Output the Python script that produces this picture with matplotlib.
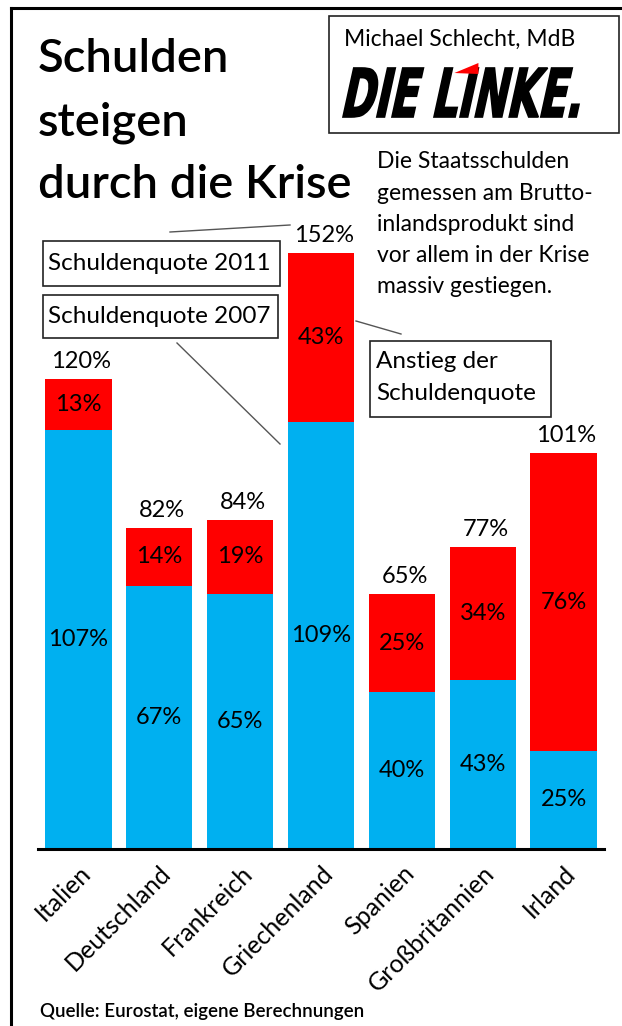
import numpy as np
import matplotlib
matplotlib.use("Agg")
import matplotlib.pyplot as plt
from matplotlib.patches import Rectangle, Polygon, PathPatch
from matplotlib.textpath import TextPath
from matplotlib.font_manager import FontProperties
from matplotlib.path import Path

plt.rcParams['font.family'] = ['Lato', 'DejaVu Sans']

# Daten (Schuldenquote in % des BIP)
laender = ["Italien", "Deutschland", "Frankreich", "Griechenland",
           "Spanien", "Großbritannien", "Irland"]
quote_2007 = [107, 67, 65, 109, 40, 43, 25]
quote_2011 = [120, 82, 84, 152, 65, 77, 101]
anstieg = [13, 14, 19, 43, 25, 34, 76]

blau = "#00B0F0"
rot = "#FF0000"

W, H = 622, 1026
fig = plt.figure(figsize=(W / 100, H / 100), dpi=100)

# Balken-Achse: Grundlinie bei y=849 px, 0..200 % -> 784 px
ax = fig.add_axes([38 / W, 1 - 849 / H, (604 - 38) / W, (849 - 65) / H])
x = np.arange(len(laender))
diff = np.array(quote_2011) - np.array(quote_2007)
ax.bar(x, quote_2007, width=0.82, color=blau, edgecolor="none")
ax.bar(x, diff, bottom=quote_2007, width=0.82, color=rot, edgecolor="none")
ax.set_xlim(-0.5, len(laender) - 0.5)
ax.set_ylim(0, 200)

for i in range(len(laender)):
    ax.text(i, quote_2007[i] / 2, f"{quote_2007[i]}%", ha="center", va="center", fontsize=17)
    ax.text(i, quote_2007[i] + diff[i] / 2, f"{anstieg[i]}%", ha="center", va="center", fontsize=17)
    ax.annotate(f"{quote_2011[i]}%", (i, quote_2011[i]), xytext=(2, 5),
                textcoords="offset points", ha="center", va="bottom", fontsize=17)

ax.set_xticks(x)
ax.set_xticklabels(laender, rotation=45, ha="right", rotation_mode="anchor", fontsize=18)
ax.tick_params(axis="x", length=0, pad=9)
ax.set_yticks([])
for s in ["left", "right", "top"]:
    ax.spines[s].set_visible(False)
ax.spines["bottom"].set_linewidth(2.2)
ax.patch.set_visible(False)

# Overlay in Pixelkoordinaten
ov = fig.add_axes([0, 0, 1, 1])
ov.set_xlim(0, W)
ov.set_ylim(H, 0)
ov.axis("off")
ov.patch.set_visible(False)

# Rahmen
ov.plot([11, 11], [H, 8], color="black", lw=2.2, solid_capstyle="projecting")
ov.plot([11, W], [8, 8], color="black", lw=2.2, solid_capstyle="projecting")

# Titel
for k, zeile in enumerate(["Schulden", "steigen", "durch die Krise"]):
    ov.text(38, 72 + 63 * k, zeile, fontsize=34, fontweight=600, va="baseline", ha="left")

# Logo-Box
ov.add_patch(Rectangle((329, 16), 290, 117, fill=False, ec="#222222", lw=1.2))
ov.text(344, 39, "Michael Schlecht, MdB", fontsize=16.5, va="center", ha="left")

prop = FontProperties(family="DejaVu Sans", weight="bold")
tp = TextPath((0, 0), "DIE LINKE.", size=100, prop=prop)
ext = tp.get_extents()
L, R, T, B = 343, 587, 68, 117
slant = 0.22
h = B - T
sy = h / ext.height
sx = (R - L - slant * h) / ext.width
v = tp.vertices
X = L + (v[:, 0] - ext.x0) * sx + slant * (v[:, 1] - ext.y0) * sy
Y = B - (v[:, 1] - ext.y0) * sy
ov.add_patch(PathPatch(Path(np.column_stack([X, Y]), tp.codes), fc="black", ec="black", lw=1.2))
# roter Wimpel auf dem i
xi = L + (TextPath((0, 0), "DIE LI", size=100, prop=prop).get_extents().x1 - ext.x0) * sx + slant * h
ov.add_patch(Polygon([(xi - 24, T + 5), (xi, T - 5), (xi, T + 6)], closed=True, fc=rot, ec="none"))

# Erklaerungstext
block = ["Die Staatsschulden", "gemessen am Brutto-", "inlandsprodukt sind",
         "vor allem in der Krise", "massiv gestiegen."]
for k, zeile in enumerate(block):
    ov.text(377, 162 + 31.2 * k, zeile, fontsize=16.5, va="center", ha="left")

# Legenden-Boxen mit Linien
ov.add_patch(Rectangle((43, 241), 237, 45, fill=False, ec="#222222", lw=1.2))
ov.text(48, 263.5, "Schuldenquote 2011", fontsize=17.5, va="center", ha="left")
ov.plot([170, 290], [232, 225], color="#555555", lw=1.0)

ov.add_patch(Rectangle((43, 295), 235, 43, fill=False, ec="#222222", lw=1.2))
ov.text(48, 316.5, "Schuldenquote 2007", fontsize=17.5, va="center", ha="left")
ov.plot([177, 280], [343, 444], color="#555555", lw=1.0)

ov.add_patch(Rectangle((370, 341), 181, 76, fill=False, ec="#222222", lw=1.2))
ov.text(376, 362, "Anstieg der", fontsize=17.5, va="center", ha="left")
ov.text(376, 394, "Schuldenquote", fontsize=17.5, va="center", ha="left")
ov.plot([356, 401], [321, 334], color="#555555", lw=1.0)

# Quelle
ov.text(40, 1012, "Quelle: Eurostat, eigene Berechnungen", fontsize=13.5,
        fontweight=600, va="center", ha="left")

fig.savefig("out.png", dpi=100, facecolor="white")
